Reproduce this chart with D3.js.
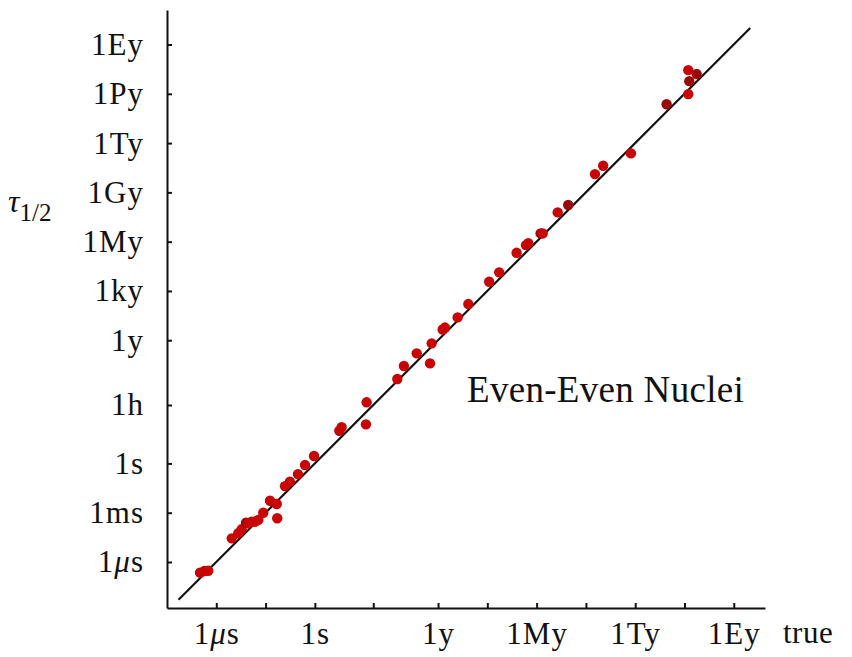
<!doctype html>
<meta charset='utf-8'>
<title>half-lives</title>
<style type="text/css">
	body { margin:0; background:white; }
	svg { display:block; }
	text { font-family:"Liberation Serif", "Times New Roman", serif; fill:#111; }
	.axis path, .axis line { stroke:#111; stroke-width:2px; }
</style>
<div id='container'></div>
<script src="https://cdnjs.cloudflare.com/ajax/libs/d3/7.8.5/d3.min.js" charset="utf-8"></script>
<script>

	// tick units, in seconds
	var yr = 365.25 * 86400
	var tickLabels = ['1\u03bcs','1ms','1s','1h','1y','1ky','1My','1Gy','1Ty','1Py','1Ey']
	var tickSeconds = [1e-6, 1e-3, 1, 3600, yr, 1e3*yr, 1e6*yr, 1e9*yr, 1e12*yr, 1e15*yr, 1e18*yr]
	var xLabelShown = ['1\u03bcs','1s','1y','1My','1Ty','1Ey']

	// log10(seconds) : true half-life and predicted half-life
	var trueLog = [-6.99,-6.72,-6.49,-5.06,-4.66,-4.46,-4.19,-4.05,-3.85,-3.65,-3.44,-3.14,-2.73,-2.32,-2.29,
		-1.82,-1.52,-1.03,-0.60,-0.05,1.49,1.63,3.11,3.15,5.02,5.42,6.20,7.01,7.11,7.78,7.92,8.69,9.34,
		10.61,11.22,12.28,12.85,12.99,13.74,13.87,14.78,15.42,17.05,17.55,19.24,21.41,22.73,22.73,22.79,23.24]
	var predLog = [-6.65,-6.55,-6.53,-4.56,-4.25,-4.01,-3.61,-3.65,-3.55,-3.55,-3.44,-3.00,-2.27,-2.47,-3.34,
		-1.38,-1.11,-0.65,-0.10,0.45,1.99,2.20,2.38,3.72,5.14,5.93,6.70,6.09,7.31,8.15,8.27,8.89,9.70,
		11.06,11.63,12.82,13.29,13.40,14.00,14.00,15.28,15.73,17.61,18.12,18.87,21.86,22.48,23.94,23.27,23.70]
	// 1 = darker red dot
	var shade = [0,0,0,0,0,0,1,0,0,0,0,0,0,0,0,
		0,0,0,0,0,0,0,0,0,0,0,0,0,0,0,0,0,0,
		0,0,0,0,0,1,0,0,1,0,0,0,1,0,0,1,1]

	var W = 852, H = 657

	var svg = d3.select('#container').append('svg')
		.attr('width', W).attr('height', H)

	var x = d3.scaleLinear().domain([-9, 27.4]).range([167, 765])
	var y = d3.scaleLinear().domain([-8.8, 27.6]).range([608, 10])

	var tickLog = tickSeconds.map(function(s){ return Math.log10(s) })

	var xAxis = d3.axisBottom(x)
		.tickValues(tickLog)
		.tickSizeInner(-5).tickSizeOuter(0).tickPadding(14)
		.tickFormat(function(d, i){
			var l = tickLabels[i]
			return xLabelShown.indexOf(l) >= 0 ? l : ''
		})

	var yAxis = d3.axisLeft(y)
		.tickValues(tickLog)
		.tickSizeInner(-5).tickSizeOuter(0).tickPadding(23)
		.tickFormat(function(d, i){ return tickLabels[i] })

	svg.append('g').attr('class','axis')
		.attr('transform','translate(0,608)')
		.call(xAxis)
	svg.append('g').attr('class','axis')
		.attr('transform','translate(167,0)')
		.call(yAxis)

	svg.selectAll('.axis text')
		.attr('font-family', '"Liberation Serif", serif')
		.attr('font-size', 31)
		.attr('letter-spacing', 1)
		.attr('fill', '#111')
		.each(function(){
			// math-style italic mu
			var t = d3.select(this), s = t.text()
			if (s.indexOf('\u03bc') < 0) return
			t.text('')
			t.append('tspan').text('1')
			t.append('tspan').attr('font-style','italic').text('\u03bc')
			t.append('tspan').text('s')
		})

	// y = x reference line
	svg.append('line')
		.attr('x1', x(-8.3)).attr('y1', y(-8.3))
		.attr('x2', x(26.5)).attr('y2', y(26.5))
		.attr('stroke', '#111').attr('stroke-width', 2.2)

	svg.append('g').selectAll('circle')
		.data(trueLog)
		.join('circle')
		.attr('cx', function(d){ return x(d) })
		.attr('cy', function(d, i){ return y(predLog[i]) })
		.attr('r', 5.2)
		.attr('fill', function(d, i){ return shade[i] ? '#9a0a0a' : '#c80404' })

	// axis titles
	svg.append('text')
		.attr('x', 783).attr('y', 643)
		.attr('font-size', 31)
		.attr('letter-spacing', 0.5)
		.text('true')

	var tau = svg.append('text')
		.attr('x', 8).attr('y', 212)
	tau.append('tspan')
		.attr('font-size', 32).attr('font-style', 'italic')
		.text('\u03c4')
	tau.append('tspan')
		.attr('font-size', 25).attr('dy', 9)
		.text('1/2')

	svg.append('text')
		.attr('x', 467).attr('y', 402)
		.attr('font-size', 37)
		.attr('letter-spacing', 0.3)
		.text('Even-Even Nuclei')

</script>
